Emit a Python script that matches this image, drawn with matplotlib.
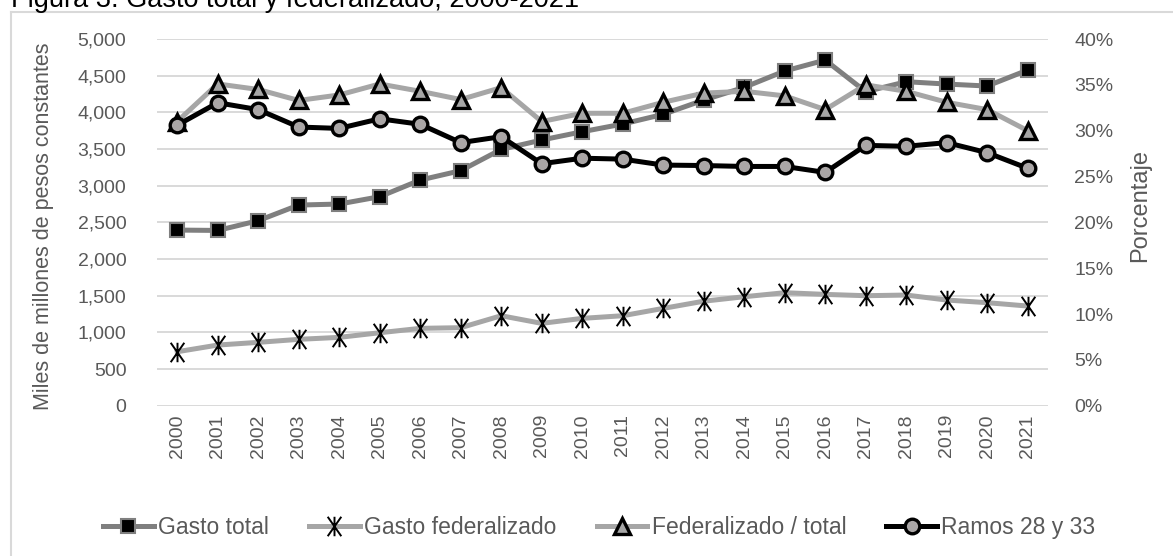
import matplotlib
matplotlib.use("Agg")
import matplotlib.pyplot as plt
from matplotlib.path import Path
from matplotlib.lines import Line2D
from matplotlib.ticker import FuncFormatter, MultipleLocator

plt.rcParams['font.family'] = ['Liberation Sans', 'DejaVu Sans']

# Datos: gasto en miles de millones de pesos constantes y porcentajes
anios = ["2000", "2001", "2002", "2003", "2004", "2005", "2006", "2007", "2008", "2009", "2010",
         "2011", "2012", "2013", "2014", "2015", "2016", "2017", "2018", "2019", "2020", "2021"]
gasto_total = [2395, 2390, 2523, 2736, 2750, 2850, 3077, 3205, 3495, 3623, 3736,
               3841, 3973, 4168, 4341, 4564, 4713, 4282, 4418, 4386, 4359, 4577]
gasto_federalizado = [736, 827, 864, 905, 932, 995, 1055, 1064, 1227, 1123, 1191,
                      1227, 1327, 1425, 1486, 1541, 1518, 1500, 1509, 1441, 1405, 1359]
federalizado_total = [31.0, 35.1, 34.5, 33.3, 33.9, 35.1, 34.3, 33.4, 34.7, 31.0, 31.9,
                      31.9, 33.1, 34.1, 34.3, 33.8, 32.3, 35.0, 34.3, 33.1, 32.3, 30.0]
ramos_28_33 = [30.6, 33.05, 32.3, 30.4, 30.25, 31.3, 30.7, 28.7, 29.35, 26.4, 27.0,
               26.9, 26.25, 26.2, 26.1, 26.1, 25.45, 28.4, 28.3, 28.7, 27.6, 25.9]

gris_texto = "#595959"
gris_rejilla = "#d9d9d9"

# Marcador tipo asterisco (X con barra vertical)
estrella = Path([(-0.7, -1), (0.7, 1), (-0.7, 1), (0.7, -1), (0, -1), (0, 1)],
                [Path.MOVETO, Path.LINETO, Path.MOVETO, Path.LINETO, Path.MOVETO, Path.LINETO])

fig = plt.figure(figsize=(11.73, 5.56), dpi=100)
ax = fig.add_axes([0.1338, 0.2703, 0.7596, 0.6595])
ax2 = ax.twinx()

x = range(len(anios))

ax.plot(x, gasto_total, color="#7f7f7f", linewidth=3.6, marker="s", markersize=10.5,
        markerfacecolor="black", markeredgecolor="#7f7f7f", markeredgewidth=1.5,
        label="Gasto total", zorder=3)
ax.plot(x, gasto_federalizado, color="#a6a6a6", linewidth=3.6, marker=estrella, markersize=14,
        markerfacecolor="none", markeredgecolor="black", markeredgewidth=1.4,
        label="Gasto federalizado", zorder=3)
ax2.plot(x, federalizado_total, color="#a6a6a6", linewidth=3.6, marker="^", markersize=11,
         markerfacecolor="#a6a6a6", markeredgecolor="black", markeredgewidth=2.4,
         label="Federalizado / total", zorder=3)
ax2.plot(x, ramos_28_33, color="black", linewidth=3.6, marker="o", markersize=10.5,
         markerfacecolor="#aaa6a6", markeredgecolor="black", markeredgewidth=2.4,
         label="Ramos 28 y 33", zorder=4)

# Ejes
ax.set_xlim(-0.5, len(anios) - 0.5)
ax.set_ylim(0, 5000)
ax2.set_ylim(0, 40)
ax.yaxis.set_major_locator(MultipleLocator(500))
ax2.yaxis.set_major_locator(MultipleLocator(5))
ax.yaxis.set_major_formatter(FuncFormatter(lambda v, p: f"{v:,.0f}"))
ax2.yaxis.set_major_formatter(FuncFormatter(lambda v, p: f"{v:.0f}%"))
ax.set_xticks(list(x))
ax.set_xticklabels(anios, rotation=90)

ax.grid(axis="y", color=gris_rejilla, linewidth=1.4)
ax.set_axisbelow(True)
for a in (ax, ax2):
    for s in a.spines.values():
        s.set_visible(False)
ax.tick_params(axis="y", length=0, pad=22, labelsize=14, labelcolor=gris_texto)
ax.tick_params(axis="x", length=0, pad=6, labelsize=14, labelcolor=gris_texto)
ax2.tick_params(axis="y", length=0, pad=19, labelsize=14, labelcolor=gris_texto)

fig.text(44 / 1173, 1 - 226 / 556, "Miles de millones de pesos constantes", rotation=90,
         ha="center", va="center", fontsize=15.5, color=gris_texto)
fig.text(1140 / 1173, 1 - 206 / 556, "Porcentaje", rotation=90,
         ha="center", va="center", fontsize=17, color=gris_texto)

# Título (recortado en la parte superior) y marco del área del gráfico
fig.text(11 / 1173, 1 - 7 / 556, "Figura 3. Gasto total y federalizado, 2000-2021",
         ha="left", va="baseline", fontsize=19.5, color="black")
fig.add_artist(Line2D([11 / 1173, 11 / 1173], [0, 1 - 12 / 556], transform=fig.transFigure,
                      color=gris_rejilla, linewidth=1.5))
fig.add_artist(Line2D([11 / 1173, 1], [1 - 12 / 556, 1 - 12 / 556], transform=fig.transFigure,
                      color=gris_rejilla, linewidth=1.5))

h1, l1 = ax.get_legend_handles_labels()
h2, l2 = ax2.get_legend_handles_labels()
leg = fig.legend(h1 + h2, l1 + l2, loc="center", bbox_to_anchor=(0.511, 0.052), ncol=4,
                 frameon=False, fontsize=16.5, handlelength=2.2, handletextpad=0.2,
                 columnspacing=1.75, numpoints=1)
for t in leg.get_texts():
    t.set_color(gris_texto)

fig.savefig("out.png", dpi=100)
